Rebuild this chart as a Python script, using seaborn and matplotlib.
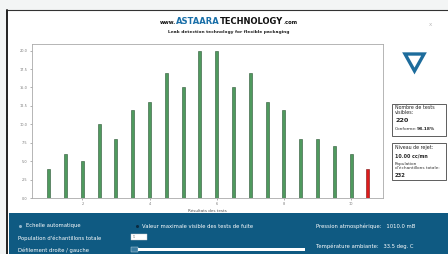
import numpy as np
import pandas as pd
import matplotlib
matplotlib.use("Agg")
import matplotlib.pyplot as plt
from matplotlib.patches import Rectangle, Polygon
import seaborn as sns

# -------------------------------
# Data
# -------------------------------
resultats = [1.0, 1.5, 2.0, 2.5, 3.0, 3.5, 4.0, 4.5, 5.0, 5.5,
             6.0, 6.5, 7.0, 7.5, 8.0, 8.5, 9.0, 9.5, 10.0, 10.5]
nombre = [4, 6, 5, 10, 8, 12, 13, 17, 15, 20,
          20, 15, 17, 13, 12, 8, 8, 7, 6, 4]
statut = ["conforme"] * 19 + ["rejet"]
x_ticks = [2, 4, 6, 8, 10]
y_ticks = [0, 2.5, 5, 7.5, 10, 12.5, 15, 17.5, 20]

df = pd.DataFrame({"resultat": resultats, "nombre": nombre, "statut": statut})

W, H = 448, 254


def fx(x):
    return x / W


def fy(y):
    return 1 - y / H


sns.set_style("ticks")
plt.rcParams["font.family"] = ["DejaVu Sans"]

fig = plt.figure(figsize=(W / 100, H / 100), dpi=100)
fig.patch.set_facecolor("white")
renderer = fig.canvas.get_renderer()

# window frame / background
fig.patches.append(Rectangle((0, fy(10)), 1, 1 - fy(10), transform=fig.transFigure,
                             facecolor="#f3f5f5", edgecolor="none", zorder=0))
fig.patches.append(Rectangle((0, 0), fx(7), 1, transform=fig.transFigure,
                             facecolor="#f3f5f5", edgecolor="none", zorder=0))
fig.add_artist(plt.Line2D([fx(7), 1], [fy(10), fy(10)], transform=fig.transFigure,
                          color="#333333", lw=0.8))
fig.add_artist(plt.Line2D([fx(7), fx(7)], [0, fy(10)], transform=fig.transFigure,
                          color="#222222", lw=1.4))

# header: pieces chained one after another
pieces = [("www.", 3.8, "#111111"), ("ASTAARA", 6.0, "#1a6fa8"),
          ("TECHNOLOGY", 6.0, "#111111"), (".com", 3.8, "#111111")]
x = 160
for s, size, col in pieces:
    t = fig.text(fx(x), fy(24), s, fontsize=size, fontweight="bold", color=col,
                 ha="left", va="baseline")
    x += t.get_window_extent(renderer).width
fig.text(fx(229), fy(32), "Leak detection technology for flexible packaging",
         fontsize=3.2, fontweight="bold", ha="center", va="center", color="#222222")
fig.text(fx(430), fy(25), "x", fontsize=4, color="#bbbbbb", ha="center", va="center")

# -------------------------------
# Bar chart
# -------------------------------
ax = fig.add_axes([fx(32), fy(198), fx(383) - fx(32), fy(44) - fy(198)])
sns.barplot(data=df, x="resultat", y="nombre", hue="statut",
            palette={"conforme": "#4f9a5e", "rejet": "#dd1c1c"}, saturation=1,
            native_scale=True, width=0.18, dodge=False, legend=False,
            linewidth=0.4, ax=ax)
for p in ax.patches:
    r, g, b, a = p.get_facecolor()
    p.set_edgecolor((r * 0.55, g * 0.55, b * 0.55, 1))

ax.set_xlim(0.5, 10.95)
ax.set_ylim(0, 20.9)
ax.set_xticks(x_ticks)
ax.set_xticklabels([str(t) for t in x_ticks])
ax.set_yticks(y_ticks)
ax.set_yticklabels([f"{t:.1f}" for t in y_ticks])
ax.tick_params(labelsize=2.5, colors="#777777", length=1.5, width=0.4, pad=1.5)
ax.set_xlabel("Résultats des tests", fontsize=3, color="#555555", labelpad=2)
ax.set_ylabel("Nombre d'échantillons", fontsize=3, color="#555555", labelpad=7)
for s in ax.spines.values():
    s.set_color("#aaaaaa")
    s.set_linewidth(0.6)

# logo triangle
fig.patches.append(Polygon([(fx(405), fy(54)), (fx(424), fy(54)), (fx(414.5), fy(71))],
                           closed=True, transform=fig.transFigure, fill=False,
                           edgecolor="#1d6c9c", lw=2.4, joinstyle="miter"))

# info boxes
for y0, y1 in [(104, 136), (143, 180)]:
    fig.patches.append(Rectangle((fx(392), fy(y1)), fx(446) - fx(392), fy(y0) - fy(y1),
                                 transform=fig.transFigure, facecolor="white",
                                 edgecolor="#444444", lw=0.6))
fig.text(fx(395), fy(110), "Nombre de tests\nvisibles:", fontsize=3.4, va="center",
         linespacing=1.0, color="#222222")
fig.text(fx(395), fy(121), "220", fontsize=4.6, fontweight="bold", va="center")
fig.text(fx(395), fy(129), "Conforme:", fontsize=3.2, va="center", color="#333333")
fig.text(fx(417), fy(129), "98.18%", fontsize=3.2, fontweight="bold", va="center")
fig.text(fx(395), fy(148), "Niveau de rejet:", fontsize=3.4, va="center", color="#222222")
fig.text(fx(395), fy(156), "10.00 cc/mn", fontsize=3.4, fontweight="bold", va="center")
fig.text(fx(395), fy(166), "Population\nd'échantillons totale:", fontsize=3.1, va="center",
         linespacing=1.0, color="#333333")
fig.text(fx(395), fy(175.5), "232", fontsize=3.8, fontweight="bold", va="center")

# -------------------------------
# Control panel (bottom)
# -------------------------------
fig.patches.append(Rectangle((fx(9), 0), 1 - fx(9), fy(213), transform=fig.transFigure,
                             facecolor="#0f5a82", edgecolor="none"))
txt = dict(fontsize=3.8, color="white", va="center")
fig.add_artist(plt.Line2D([fx(20)], [fy(226)], marker="o", ms=1.2, color="#8fb5cc",
                          transform=fig.transFigure))
fig.add_artist(plt.Line2D([fx(137)], [fy(226)], marker="o", ms=1.2, color="#0a2a40",
                          transform=fig.transFigure))
fig.text(fx(26), fy(226), "Echelle automatique", **txt)
fig.text(fx(142), fy(226), "Valeur maximale visible des tests de fuite", **txt)
fig.text(fx(18), fy(238), "Population d'échantillons totale", **txt)
fig.text(fx(18), fy(250), "Défilement droite / gauche", **txt)
fig.text(fx(316), fy(226), "Pression atmosphérique:   1010.0 mB", **txt)
fig.text(fx(316), fy(246), "Température ambiante:   33.5 deg. C", **txt)

fig.patches.append(Rectangle((fx(131), fy(239.5)), fx(16), fy(234) - fy(239.5),
                             transform=fig.transFigure, facecolor="white", edgecolor="#cccccc",
                             lw=0.3))
fig.text(fx(133), fy(236.8), "10", fontsize=1.8, color="#888888", va="center")
fig.patches.append(Rectangle((fx(131), fy(251.5)), fx(7), fy(247) - fy(251.5),
                             transform=fig.transFigure, facecolor="#3d7ea3",
                             edgecolor="#cfdde6", lw=0.3))
fig.patches.append(Rectangle((fx(138), fy(251)), fx(305) - fx(138), fy(247.5) - fy(251),
                             transform=fig.transFigure, facecolor="white", edgecolor="none"))

fig.savefig("out.png", dpi=100)
